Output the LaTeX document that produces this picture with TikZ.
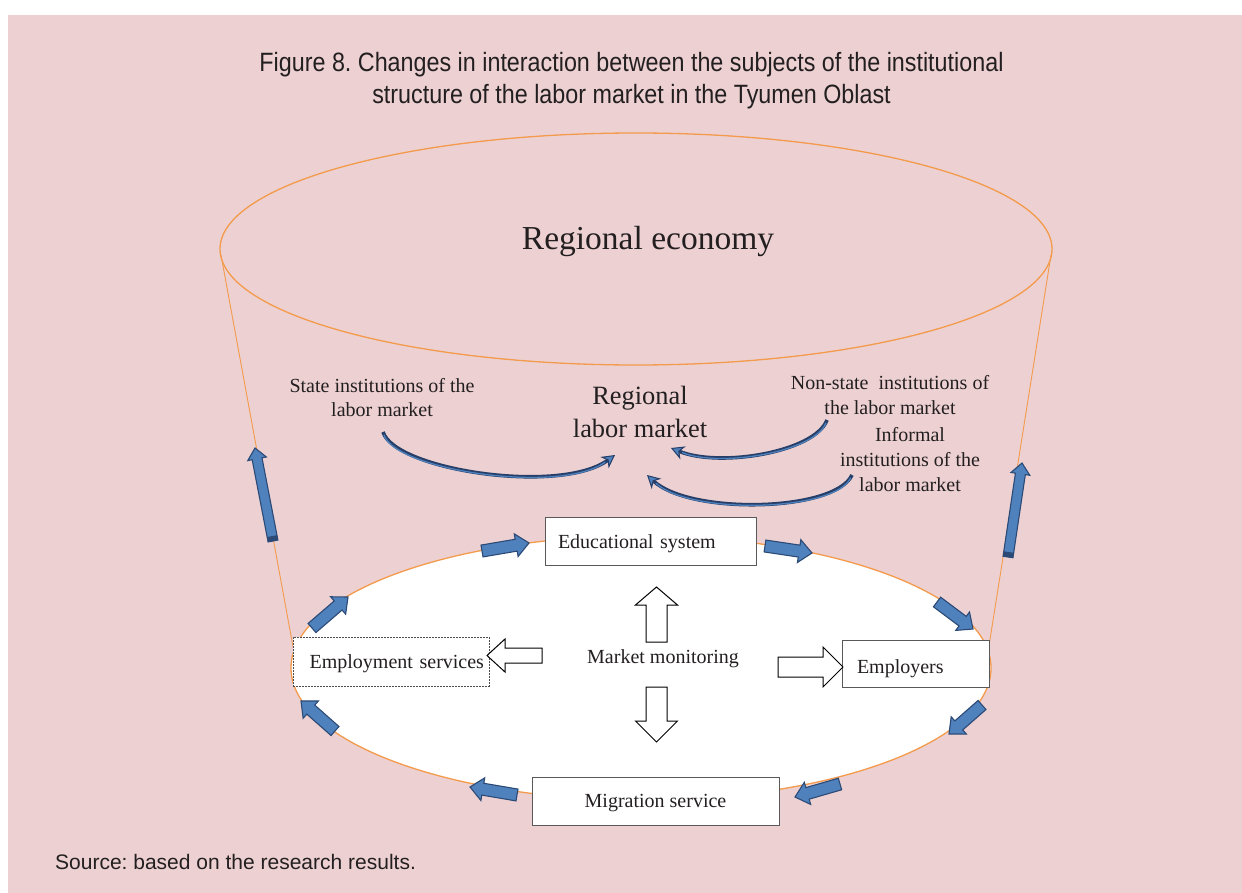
\documentclass[tikz,border=0pt]{standalone}
\usepackage{fontspec}
\setmainfont{Liberation Serif}
\newfontfamily\titlefont[FakeStretch=0.88]{Liberation Sans}
\newfontfamily\srcfont{Liberation Sans}
\usetikzlibrary{calc,arrows.meta}
\definecolor{bgpink}{RGB}{237,209,210}
\definecolor{ink}{RGB}{35,31,32}
\definecolor{orangeline}{RGB}{243,154,76}
\definecolor{bluefill}{RGB}{79,129,189}
\definecolor{blueedge}{RGB}{44,74,118}
\definecolor{navy}{RGB}{38,62,104}
\frenchspacing
\newcommand\blockarr[6][]{%
  \coordinate (ba0) at #2;
  \coordinate (ba1) at #3;
  \coordinate (bah) at ($(ba1)!#6!(ba0)$);
  \draw[#1] ($(ba0)!#4!90:(ba1)$) -- ($(bah)!#4!90:(ba1)$) -- ($(bah)!#5!90:(ba1)$) -- (ba1)
    -- ($(bah)!#5!-90:(ba1)$) -- ($(bah)!#4!-90:(ba1)$) -- ($(ba0)!#4!-90:(ba1)$) -- cycle;
}
\tikzset{
  bluearr/.style={fill=bluefill,draw=blueedge,line width=1.1pt,line join=miter},
  hollowarr/.style={fill=white,draw=black,line width=1pt,line join=miter},
  boxnode/.style={draw=black!65,line width=1pt,fill=white,font=\fontsize{20}{24}\selectfont,text=ink,text depth=4.4pt},
  plaintext/.style={font=\fontsize{20}{25}\selectfont,text=ink,align=center,inner sep=0pt},
  curvarrow/.style={draw=navy,line width=3.6pt,-{Stealth[length=13pt,width=14pt,inset=4pt,fill=bluefill,line width=1pt]}},
  curvinner/.style={draw=bluefill,line width=1.3pt,shorten >=12pt,shorten <=3pt},
  orangeln/.style={draw=orangeline,line width=1.3pt}
}
\begin{document}
\begin{tikzpicture}[x=1pt,y=-1pt]
\useasboundingbox (0,0) rectangle (1242,893);
\fill[white] (0,0) rectangle (1242,893);
\fill[bgpink] (8,15) rectangle (1242,893);

% title
\node[font=\titlefont\fontsize{26.5}{32}\selectfont,text=ink,align=center,inner sep=0pt] (title) at (631.5,81) {Figure 8. Changes in interaction between the subjects of the institutional\\structure of the labor market in the Tyumen Oblast};

% cone
\draw[orangeln,line width=0.9pt] (221,255) -- (294,652);
\draw[orangeln,line width=0.9pt] (1051,255) -- (988,652);
\draw[orangeln] (636,249) ellipse [x radius=416, y radius=116];
\filldraw[orangeln,fill=white] (641,668) ellipse [x radius=350, y radius=132];

% texts in cone
\node[font=\fontsize{33.5}{40}\selectfont,text=ink,inner sep=0pt] (economy) at (648,241) {Regional economy};
\node[font=\fontsize{26.4}{33}\selectfont,text=ink,align=center,inner sep=0pt] (market) at (640,412) {Regional\\labor market};
\node[plaintext,font=\fontsize{20}{24}\selectfont] (state) at (382,398) {State institutions of the\\labor market};
\node[plaintext] (nonstate) at (890,395.5) {Non-state\ \ institutions of\\the labor market};
\node[plaintext] (informal) at (910,460) {Informal\\institutions of the\\labor market};

% curved arrows
\coordinate (sa) at (383,432); \coordinate (sb) at (615,455);
\coordinate (na) at (827,420); \coordinate (nb) at (671,448);
\coordinate (ia) at (852,475); \coordinate (ib) at (647,475);
\draw[curvarrow] (sa) .. controls (395,470) and (560,495) .. (sb);
\draw[curvinner] (sa) .. controls (395,470) and (560,495) .. (sb);
\draw[curvarrow] (na) .. controls (815,452) and (720,468) .. (nb);
\draw[curvinner] (na) .. controls (815,452) and (720,468) .. (nb);
\draw[curvarrow] (ia) .. controls (835,512) and (690,515) .. (ib);
\draw[curvinner] (ia) .. controls (835,512) and (690,515) .. (ib);

% boxes
\node[boxnode,minimum width=211pt,minimum height=48pt,text width=185pt,inner xsep=13pt,align=left,text height=19.6pt] (edu) at (650.5,541) {Educational system};
\node[boxnode,draw=black!70,dash pattern=on 2pt off 1pt,line width=0.8pt,minimum width=196pt,minimum height=49pt,text width=186pt,inner xsep=5pt,align=right,text height=17.6pt] (empl) at (391,661.5) {Employment services};
\node[boxnode,minimum width=147pt,minimum height=47pt,text width=117pt,inner xsep=15pt,align=left,text height=23.6pt] (employers) at (915.5,663.5) {Employers};
\node[boxnode,minimum width=247pt,minimum height=48pt,align=center,text height=17.6pt] (migr) at (655.5,801) {Migration service};
\node[plaintext] (monitor) at (663,659) {Market monitoring};

% hollow arrows from monitoring
\blockarr[hollowarr]{(656.5,642)}{(656.5,587)}{10.5pt}{21pt}{18pt}
\blockarr[hollowarr]{(656.5,687)}{(656.5,742)}{10.5pt}{21pt}{21pt}
\blockarr[hollowarr]{(542,655.5)}{(487,655.5)}{7.5pt}{16.5pt}{18pt}
\blockarr[hollowarr]{(778,667)}{(843,667)}{10pt}{20pt}{20pt}

% blue arrows around the ellipse
\blockarr[bluearr]{(482,551)}{(529,543)}{6pt}{11.5pt}{13pt}
\blockarr[bluearr]{(765,546)}{(812,553)}{6pt}{11.5pt}{13pt}
\blockarr[bluearr]{(937,602)}{(973,629)}{6pt}{11.5pt}{13pt}
\blockarr[bluearr]{(982,705)}{(949,734)}{6pt}{11.5pt}{13pt}
\blockarr[bluearr]{(840,784)}{(795,797)}{6pt}{11.5pt}{13pt}
\blockarr[bluearr]{(517,795)}{(470,787)}{6pt}{11.5pt}{13pt}
\blockarr[bluearr]{(335,731)}{(301,701)}{6pt}{11.5pt}{13pt}
\blockarr[bluearr]{(312,628)}{(348,597)}{6pt}{11.5pt}{13pt}

% big side arrows
\blockarr[bluearr]{(273,541)}{(255,448)}{5pt}{9.5pt}{11pt}
\fill[blueedge] ($(ba0)!5pt!90:(ba1)$) -- ($($(ba0)!5pt!(ba1)$)!5pt!90:(ba1)$) -- ($($(ba0)!5pt!(ba1)$)!5pt!-90:(ba1)$) -- ($(ba0)!5pt!-90:(ba1)$) -- cycle;
\blockarr[bluearr]{(1008,557)}{(1022,463)}{5pt}{9.5pt}{11pt}
\fill[blueedge] ($(ba0)!5pt!90:(ba1)$) -- ($($(ba0)!5pt!(ba1)$)!5pt!90:(ba1)$) -- ($($(ba0)!5pt!(ba1)$)!5pt!-90:(ba1)$) -- ($(ba0)!5pt!-90:(ba1)$) -- cycle;

% source
\node[font=\srcfont\fontsize{21}{25}\selectfont,text=ink,anchor=west,inner sep=0pt] (source) at (55,862) {Source: based on the research results.};
\end{tikzpicture}
\end{document}
